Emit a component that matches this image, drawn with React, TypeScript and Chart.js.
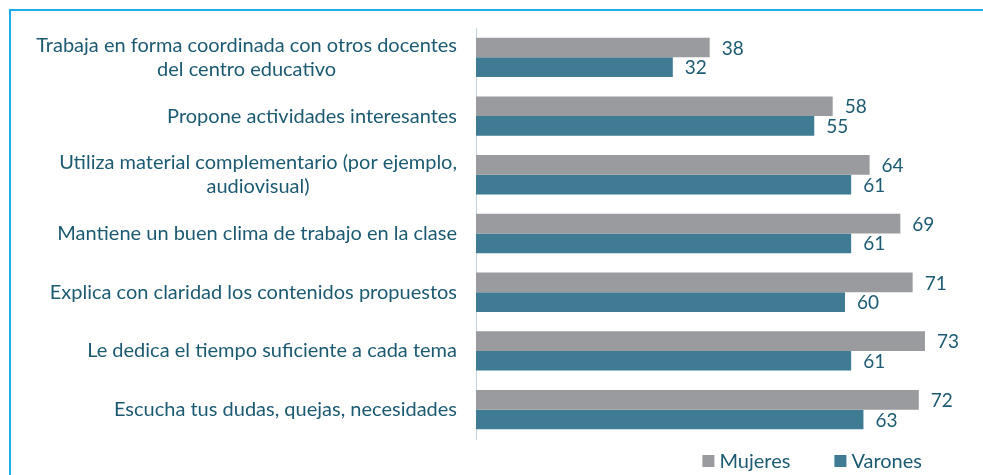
import React, { useEffect, useRef } from "react";
import { Chart, registerables } from "chart.js";

Chart.register(...registerables);

const categories: (string | string[])[] = [
  ["Trabaja en forma coordinada con otros docentes", "del centro educativo"],
  "Propone actividades interesantes",
  ["Utiliza material complementario (por ejemplo,", "audiovisual)"],
  "Mantiene un buen clima de trabajo en la clase",
  "Explica con claridad los contenidos propuestos",
  "Le dedica el tiempo suficiente a cada tema",
  "Escucha tus dudas, quejas, necesidades",
];
const mujeres = [38, 58, 64, 69, 71, 73, 72];
const varones = [32, 55, 61, 61, 60, 61, 63];
const seriesNames = ["Mujeres", "Varones"];

const GRAY = "#999b9e";
const BLUE = "#407b94";
const TEXT = "#1c5a72";
const FONT = "Lato";

const labelsPlugin = {
  id: "customLabels",
  afterDraw(chart: any) {
    const ctx = chart.ctx;
    const yScale = chart.scales.y;
    const area = chart.chartArea;
    ctx.save();
    ctx.fillStyle = TEXT;
    ctx.textBaseline = "middle";
    // category labels
    ctx.font = `20px ${FONT}`;
    ctx.textAlign = "center";
    categories.forEach((lab, i) => {
      const lines = Array.isArray(lab) ? lab : [lab];
      const widths = lines.map((l) => ctx.measureText(l).width);
      const maxW = Math.max(...widths);
      const cx = area.left - 19 - maxW / 2;
      const y = yScale.getPixelForValue(i);
      const lh = 24;
      lines.forEach((l, j) => {
        ctx.fillText(l, cx, y + (j - (lines.length - 1) / 2) * lh);
      });
    });
    // data labels
    ctx.font = `19px ${FONT}`;
    ctx.textAlign = "left";
    chart.data.datasets.forEach((ds: any, di: number) => {
      const meta = chart.getDatasetMeta(di);
      meta.data.forEach((el: any, i: number) => {
        ctx.fillText(String(ds.data[i]), el.x + 12, el.y + 1);
      });
    });
    // legend
    ctx.font = `20px ${FONT}`;
    const colors = [GRAY, BLUE];
    const box = 12;
    const gapBoxText = 5;
    const itemGap = 44;
    const widths = seriesNames.map((n) => ctx.measureText(n).width);
    let x = area.right - 46;
    const ly = 461;
    for (let k = seriesNames.length - 1; k >= 0; k--) {
      x -= widths[k];
      const tx = x;
      x -= gapBoxText + box;
      ctx.fillStyle = colors[k];
      ctx.fillRect(x, ly - box / 2, box, box);
      ctx.fillStyle = TEXT;
      ctx.fillText(seriesNames[k], tx, ly + 1);
      x -= itemGap;
    }
    ctx.restore();
  },
};

export default function App() {
  const ref = useRef<HTMLCanvasElement>(null);
  useEffect(() => {
    if (!ref.current) return;
    const chart = new Chart(ref.current, {
      type: "bar",
      data: {
        labels: categories as any,
        datasets: [
          { label: seriesNames[0], data: mujeres, backgroundColor: GRAY },
          { label: seriesNames[1], data: varones, backgroundColor: BLUE },
        ],
      },
      plugins: [labelsPlugin],
      options: {
        indexAxis: "y",
        responsive: false,
        animation: false,
        layout: { padding: { top: 28, bottom: 36, right: 15, left: 0 } },
        datasets: {
          bar: { categoryPercentage: 0.67, barPercentage: 1 },
        } as any,
        plugins: {
          legend: { display: false },
          tooltip: { enabled: false },
        },
        scales: {
          x: { display: false, min: 0, max: 80 },
          y: {
            grid: { display: false },
            border: { display: true, color: "#c5d3dc", width: 1 },
            ticks: { display: false },
            afterFit(scale: any) {
              scale.width = 476;
            },
          },
        },
      },
    });
    return () => chart.destroy();
  }, []);
  return (
    <div style={{ position: "fixed", left: 0, top: 0, width: 983, height: 475, background: "#fff" }}>
      <canvas ref={ref} width={983} height={475} style={{ position: "absolute", left: 0, top: 0 }} />
      <div
        style={{
          position: "absolute",
          left: 9,
          top: 9,
          width: 1000,
          height: 500,
          borderTop: "2px solid #1aaeea",
          borderLeft: "2px solid #1aaeea",
          pointerEvents: "none",
        }}
      />
    </div>
  );
}
